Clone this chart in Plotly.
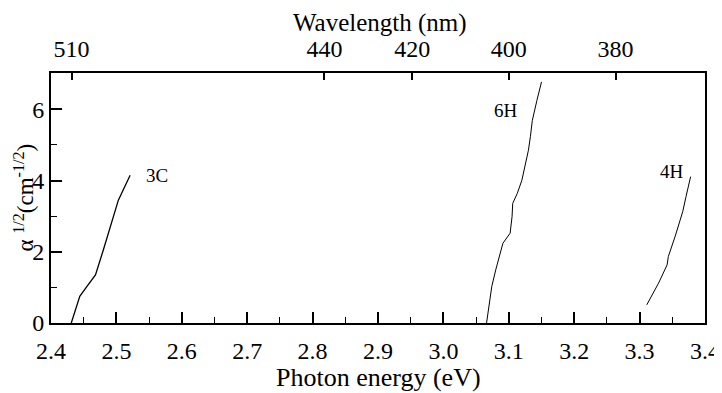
import plotly.graph_objects as go

# Data
e_3c = [2.431, 2.437, 2.444, 2.455, 2.468, 2.480, 2.493, 2.503, 2.521]
a_3c = [0.00, 0.37, 0.75, 1.03, 1.35, 2.05, 2.85, 3.45, 4.15]

e_6h = [3.066, 3.068, 3.074, 3.080, 3.085, 3.091, 3.102, 3.105, 3.106, 3.113,
        3.120, 3.125, 3.130, 3.133, 3.136, 3.143, 3.150]
a_6h = [0.00, 0.23, 1.03, 1.49, 1.87, 2.24, 2.52, 2.99, 3.36, 3.64,
        4.01, 4.39, 4.85, 5.23, 5.69, 6.25, 6.77]

e_4h = [3.311, 3.329, 3.342, 3.344, 3.355, 3.366, 3.371, 3.378]
a_4h = [0.51, 1.12, 1.63, 1.87, 2.47, 3.13, 3.55, 4.11]

labels = ["3C", "6H", "4H"]
label_x = [2.562, 3.095, 3.350]
label_y = [4.15, 5.97, 4.25]

wl_ticks = [510, 440, 420, 400, 380]

x_title = "Photon energy (eV)"
x2_title = "Wavelength (nm)"
y_title = "α <sup>1/2</sup>(cm<sup>-1/2</sup>)"

FONT = "Liberation Serif"

fig = go.Figure()
for ex, ay, w in [(e_3c, a_3c, 1.3), (e_6h, a_6h, 1.0), (e_4h, a_4h, 1.0)]:
    fig.add_trace(go.Scatter(x=ex, y=ay, mode="lines",
                             line=dict(color="black", width=w),
                             showlegend=False, hoverinfo="skip"))
# invisible trace for the top axis
fig.add_trace(go.Scatter(x=[2.4, 3.4], y=[0, 0], xaxis="x2", mode="markers",
                         marker=dict(opacity=0), showlegend=False, hoverinfo="skip"))

for t, x, y in zip(labels, label_x, label_y):
    fig.add_annotation(x=x, y=y, text=t, showarrow=False,
                       font=dict(family=FONT, size=19, color="black"))

# axis titles
fig.add_annotation(x=0.5, y=-0.216, xref="paper", yref="paper", text=x_title,
                   showarrow=False, xanchor="center", yanchor="middle",
                   font=dict(family=FONT, size=26, color="black"))
fig.add_annotation(x=0.503, y=1.202, xref="paper", yref="paper", text=x2_title,
                   showarrow=False, xanchor="center", yanchor="middle",
                   font=dict(family=FONT, size=25, color="black"))
fig.add_annotation(x=-0.042, y=0.50, xref="paper", yref="paper", text=y_title,
                   showarrow=False, xanchor="center", yanchor="middle", textangle=-90,
                   font=dict(family=FONT, size=23, color="black"))

fig.update_layout(
    width=714, height=385,
    margin=dict(l=43, r=17, t=65, b=70),
    plot_bgcolor="white", paper_bgcolor="white",
    font=dict(family=FONT, size=24, color="black"),
    xaxis=dict(range=[2.4, 3.4], dtick=0.1, tick0=2.4, tickformat=".1f",
               ticks="inside", ticklen=11, tickwidth=1.5, tickcolor="black",
               minor=dict(ticks="inside", ticklen=6, dtick=0.05, tickwidth=1.2, tickcolor="black"),
               showline=True, linecolor="black", linewidth=2, mirror=True,
               showgrid=False, zeroline=False, automargin=False,
               ticklabelstandoff=5,
               tickfont=dict(family=FONT, size=24)),
    xaxis2=dict(range=[2.4, 3.4], overlaying="x", side="top",
                tickvals=[1240 / w for w in wl_ticks],
                ticktext=[str(w) for w in wl_ticks],
                ticks="inside", ticklen=7, tickwidth=1.5, tickcolor="black",
                showline=False, showgrid=False, zeroline=False, automargin=False,
                ticklabelstandoff=10,
                tickfont=dict(family=FONT, size=24)),
    yaxis=dict(range=[0, 7.02], dtick=2, tick0=0,
               ticks="inside", ticklen=11, tickwidth=1.5, tickcolor="black",
               minor=dict(ticks="inside", ticklen=6, dtick=1, tickwidth=1.2, tickcolor="black"),
               showline=True, linecolor="black", linewidth=2, mirror=True,
               showgrid=False, zeroline=False, automargin=False,
               tickfont=dict(family=FONT, size=24)),
)

fig.write_html("out.html")
